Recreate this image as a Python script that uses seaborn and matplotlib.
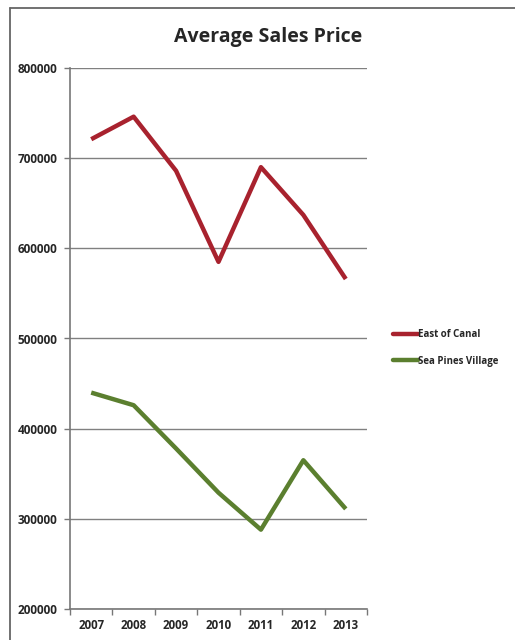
import matplotlib
matplotlib.use("Agg")
import matplotlib.pyplot as plt
from matplotlib.lines import Line2D
from matplotlib.ticker import FixedLocator
import seaborn as sns
import pandas as pd

years = [2007, 2008, 2009, 2010, 2011, 2012, 2013]
east_of_canal = [721000, 746000, 686000, 585000, 690000, 637000, 566000]
sea_pines_village = [440000, 426000, 378000, 329000, 288000, 365000, 311000]
series_names = ["East of Canal", "Sea Pines Village"]
title = "Average Sales Price"
y_ticks = [200000, 300000, 400000, 500000, 600000, 700000, 800000]

df = pd.DataFrame({
    "Year": years * 2,
    "Price": east_of_canal + sea_pines_village,
    "Series": [series_names[0]] * len(years) + [series_names[1]] * len(years),
})

sns.set_style("white")
plt.rcParams["font.family"] = ["Open Sans", "DejaVu Sans"]

fig = plt.figure(figsize=(5.15, 6.4), dpi=100)
ax = fig.add_axes([70 / 515, 1 - 609 / 640, 297 / 515, (609 - 68) / 640])

palette = {series_names[0]: "#A8222E", series_names[1]: "#5B7F2F"}
sns.lineplot(data=df, x="Year", y="Price", hue="Series", palette=palette,
             linewidth=3.2, ax=ax, legend=False, solid_capstyle="butt")

ax.set_xlim(years[0] - 0.5, years[-1] + 0.5)
ax.set_ylim(y_ticks[0], y_ticks[-1])
ax.set_yticks(y_ticks)
ax.set_yticklabels([str(v) for v in y_ticks], fontsize=8.5, fontweight="bold")
ax.set_xticks(years)
ax.set_xticklabels([str(y) for y in years], fontsize=8.3, fontweight="bold")
ax.xaxis.set_minor_locator(FixedLocator([y - 0.5 for y in years] + [years[-1] + 0.5]))
ax.tick_params(axis="x", which="major", length=0, pad=7)
ax.tick_params(axis="x", which="minor", length=4, direction="out", color="#777777", width=1, bottom=True)
ax.tick_params(axis="y", which="major", length=4, direction="out", color="#777777", width=1, left=True, pad=5)
ax.set_xlabel("")
ax.set_ylabel("")
ax.grid(axis="y", color="#808080", linewidth=1)
ax.set_axisbelow(True)
for s in ["top", "right"]:
    ax.spines[s].set_visible(False)
for s in ["left", "bottom"]:
    ax.spines[s].set_color("#777777")
    ax.spines[s].set_linewidth(1.2)

fig.text(268 / 515, 1 - 37 / 640, title, ha="center", va="center",
         fontsize=14, fontweight="bold")

handles = [Line2D([0], [0], color=palette[n], linewidth=3.2) for n in series_names]
leg = fig.legend(handles, series_names, loc="center left",
                 bbox_to_anchor=(384 / 515, 1 - 348 / 640), frameon=False,
                 prop={"size": 7, "weight": "bold"}, handlelength=2.6,
                 handletextpad=0.0, labelspacing=1.6)

fig.add_artist(Line2D([10 / 515, 1], [1 - 8 / 640, 1 - 8 / 640], color="#666666", linewidth=1.3))
fig.add_artist(Line2D([10 / 515, 10 / 515], [0, 1 - 8 / 640], color="#666666", linewidth=1.3))

fig.savefig("out.png", dpi=100)
